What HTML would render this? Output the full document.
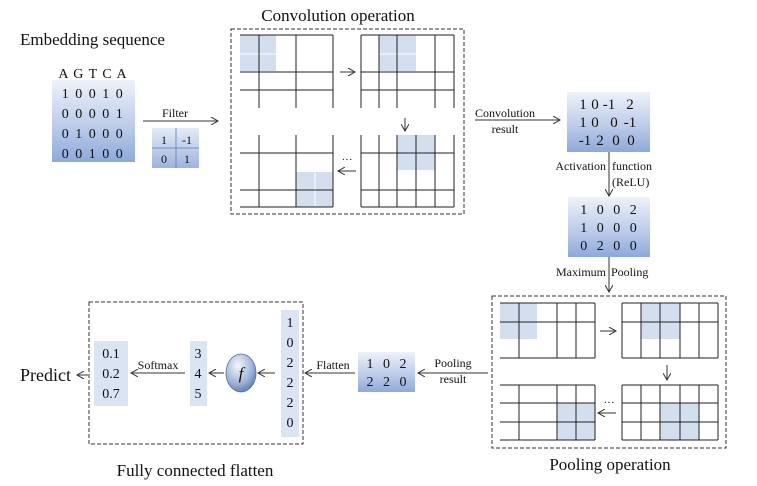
<!DOCTYPE html>
<html><head><meta charset="utf-8"><style>
html,body{margin:0;padding:0;background:#fff}
svg{display:block}
text{font-family:"Liberation Serif",serif;fill:#111}
</style></head><body>
<svg width="757" height="486" viewBox="0 0 757 486" xmlns="http://www.w3.org/2000/svg">
<defs>
<linearGradient id="g" x1="0" y1="0" x2="0" y2="1">
<stop offset="0" stop-color="#eef2fa"/><stop offset="0.6" stop-color="#b9c9e8"/><stop offset="1" stop-color="#8ea9da"/>
</linearGradient>
<linearGradient id="g2" x1="0" y1="0" x2="0" y2="1">
<stop offset="0" stop-color="#e4ebf7"/><stop offset="1" stop-color="#9db4df"/>
</linearGradient>
<radialGradient id="cg" cx="0.4" cy="0.3" r="0.8">
<stop offset="0" stop-color="#f4f7fc"/><stop offset="0.6" stop-color="#9fb3d8"/><stop offset="1" stop-color="#4f6da8"/>
</radialGradient>
<marker id="a" markerWidth="8" markerHeight="8" refX="7" refY="4" orient="auto" markerUnits="userSpaceOnUse">
<path d="M0,0 L7,4 L0,8" fill="none" stroke="#333" stroke-width="1"/>
</marker>
</defs>

<text x="20" y="45" font-size="17">Embedding sequence</text>
<text x="338" y="21" font-size="17" text-anchor="middle">Convolution operation</text>
<text x="610" y="470" font-size="17" text-anchor="middle">Pooling operation</text>
<text x="195" y="476" font-size="17" text-anchor="middle">Fully connected flatten</text>

<text x="93" y="78" font-size="14" text-anchor="middle" letter-spacing="1">A G T C A</text>
<rect x="52" y="80" width="83" height="82" fill="url(#g)"/>
<g font-size="14" text-anchor="middle" letter-spacing="1.5">
<text x="93" y="98">1 0 0 1 0</text>
<text x="93" y="118">0 0 0 0 1</text>
<text x="93" y="138">0 1 0 0 0</text>
<text x="93" y="158">0 0 1 0 0</text>
</g>
<text x="175" y="117" font-size="12" text-anchor="middle">Filter</text>
<line x1="143" y1="121" x2="218" y2="121" stroke="#333" marker-end="url(#a)"/>
<rect x="152" y="128" width="47" height="40" fill="url(#g2)"/>
<line x1="176" y1="128" x2="176" y2="168" stroke="#5a7ab5" stroke-width="0.8"/>
<line x1="152" y1="148" x2="199" y2="148" stroke="#5a7ab5" stroke-width="0.8"/>
<text x="164" y="144" font-size="12" text-anchor="middle">1</text>
<text x="187" y="144" font-size="12" text-anchor="middle">-1</text>
<text x="164" y="163" font-size="12" text-anchor="middle">0</text>
<text x="187" y="163" font-size="12" text-anchor="middle">1</text>

<rect x="231" y="29" width="233" height="185" fill="none" stroke="#333" stroke-dasharray="4,2"/>
<g fill="#d3deef">
<rect x="240" y="35" width="36" height="36"/>
<rect x="379" y="35" width="37" height="36"/>
<rect x="296" y="172" width="37" height="35"/>
<rect x="397" y="135" width="38" height="35"/>
</g>
<g stroke="#fff" stroke-width="1">
<line x1="259" y1="35" x2="259" y2="71"/><line x1="240" y1="54" x2="276" y2="54"/>
<line x1="397" y1="35" x2="397" y2="71"/><line x1="379" y1="54" x2="416" y2="54"/>
<line x1="315" y1="172" x2="315" y2="207"/>
</g>
<g stroke="#222" stroke-width="1">
<line x1="240" y1="35" x2="333" y2="35"/><line x1="240" y1="72" x2="333" y2="72"/><line x1="240" y1="90" x2="333" y2="90"/>
<line x1="259" y1="35" x2="259" y2="108"/><line x1="296" y1="35" x2="296" y2="108"/><line x1="333" y1="35" x2="333" y2="108"/>
<line x1="361" y1="35" x2="454" y2="35"/><line x1="361" y1="72" x2="454" y2="72"/><line x1="361" y1="90" x2="454" y2="90"/>
<line x1="361" y1="35" x2="361" y2="108"/><line x1="379" y1="35" x2="379" y2="108"/><line x1="397" y1="35" x2="397" y2="108"/>
<line x1="435" y1="35" x2="435" y2="108"/><line x1="454" y1="35" x2="454" y2="108"/>
<line x1="240" y1="153" x2="333" y2="153"/><line x1="240" y1="190" x2="333" y2="190"/><line x1="240" y1="207" x2="333" y2="207"/>
<line x1="259" y1="135" x2="259" y2="207"/><line x1="296" y1="135" x2="296" y2="207"/><line x1="333" y1="135" x2="333" y2="207"/>
<line x1="361" y1="153" x2="454" y2="153"/><line x1="361" y1="190" x2="454" y2="190"/><line x1="361" y1="207" x2="454" y2="207"/>
<line x1="361" y1="135" x2="361" y2="207"/><line x1="379" y1="135" x2="379" y2="207"/><line x1="397" y1="135" x2="397" y2="207"/>
<line x1="416" y1="135" x2="416" y2="207"/><line x1="435" y1="135" x2="435" y2="207"/><line x1="454" y1="135" x2="454" y2="207"/>
</g>
<line x1="340" y1="72" x2="355" y2="72" stroke="#333" marker-end="url(#a)"/>
<line x1="405" y1="118" x2="405" y2="131" stroke="#333" marker-end="url(#a)"/>
<line x1="356" y1="171" x2="338" y2="171" stroke="#333" marker-end="url(#a)"/>
<text x="347" y="163" font-size="11" text-anchor="middle">···</text>

<text x="505" y="117" font-size="12" text-anchor="middle">Convolution</text>
<text x="505" y="133" font-size="12" text-anchor="middle">result</text>
<line x1="475" y1="120" x2="560" y2="120" stroke="#333" marker-end="url(#a)"/>
<rect x="567" y="92" width="83" height="60" fill="url(#g)"/>
<g font-size="15" text-anchor="middle">
<text x="583" y="109">1</text><text x="595" y="109">0</text><text x="609" y="109">-1</text><text x="630" y="109">2</text>
<text x="583" y="127">1</text><text x="595" y="127">0</text><text x="614" y="127">0</text><text x="630" y="127">-1</text>
<text x="585" y="145">-1</text><text x="600" y="145">2</text><text x="616" y="145">0</text><text x="631" y="145">0</text>
</g>
<line x1="609" y1="152" x2="609" y2="196" stroke="#333" marker-end="url(#a)"/>
<text x="606" y="170" font-size="12" text-anchor="end">Activation</text>
<text x="612" y="170" font-size="12">function</text>
<text x="612" y="186" font-size="12">(ReLU)</text>
<rect x="568" y="197" width="82" height="60" fill="url(#g)"/>
<g font-size="14" text-anchor="middle" letter-spacing="3">
<text x="610" y="214">1 0 0 2</text>
<text x="610" y="232">1 0 0 0</text>
<text x="610" y="250">0 2 0 0</text>
</g>
<line x1="609" y1="257" x2="609" y2="292" stroke="#333" marker-end="url(#a)"/>
<text x="606" y="276" font-size="12" text-anchor="end">Maximum</text>
<text x="611" y="276" font-size="12">Pooling</text>

<rect x="492" y="296" width="234" height="152" fill="none" stroke="#333" stroke-dasharray="4,2"/>
<g fill="#d3deef">
<rect x="500" y="303" width="37" height="36"/>
<rect x="641" y="303" width="39" height="36"/>
<rect x="557" y="403" width="38" height="37"/>
<rect x="660" y="403" width="39" height="37"/>
</g>
<g stroke="#222" stroke-width="1">
<line x1="500" y1="303" x2="595" y2="303"/><line x1="500" y1="322" x2="595" y2="322"/><line x1="500" y1="358" x2="595" y2="358"/>
<line x1="519" y1="303" x2="519" y2="358"/><line x1="557" y1="303" x2="557" y2="358"/><line x1="576" y1="303" x2="576" y2="358"/><line x1="595" y1="303" x2="595" y2="358"/>
<line x1="622" y1="303" x2="718" y2="303"/><line x1="622" y1="322" x2="718" y2="322"/><line x1="622" y1="358" x2="718" y2="358"/>
<line x1="622" y1="303" x2="622" y2="358"/><line x1="641" y1="303" x2="641" y2="358"/><line x1="660" y1="303" x2="660" y2="358"/><line x1="680" y1="303" x2="680" y2="358"/><line x1="699" y1="303" x2="699" y2="358"/><line x1="718" y1="303" x2="718" y2="358"/>
<line x1="500" y1="385" x2="595" y2="385"/><line x1="500" y1="403" x2="595" y2="403"/><line x1="500" y1="422" x2="595" y2="422"/><line x1="500" y1="440" x2="595" y2="440"/>
<line x1="519" y1="385" x2="519" y2="440"/><line x1="557" y1="385" x2="557" y2="440"/><line x1="576" y1="385" x2="576" y2="440"/><line x1="595" y1="385" x2="595" y2="440"/>
<line x1="622" y1="385" x2="718" y2="385"/><line x1="622" y1="403" x2="718" y2="403"/><line x1="622" y1="422" x2="718" y2="422"/><line x1="622" y1="440" x2="718" y2="440"/>
<line x1="622" y1="385" x2="622" y2="440"/><line x1="641" y1="385" x2="641" y2="440"/><line x1="660" y1="385" x2="660" y2="440"/><line x1="680" y1="385" x2="680" y2="440"/><line x1="699" y1="385" x2="699" y2="440"/><line x1="718" y1="385" x2="718" y2="440"/>
</g>
<line x1="600" y1="331" x2="616" y2="331" stroke="#333" marker-end="url(#a)"/>
<line x1="667" y1="365" x2="667" y2="380" stroke="#333" marker-end="url(#a)"/>
<line x1="616" y1="413" x2="598" y2="413" stroke="#333" marker-end="url(#a)"/>
<text x="609" y="406" font-size="11" text-anchor="middle">···</text>

<line x1="488" y1="373" x2="418" y2="373" stroke="#333" marker-end="url(#a)"/>
<text x="453" y="367" font-size="12" text-anchor="middle">Pooling</text>
<text x="453" y="383" font-size="12" text-anchor="middle">result</text>
<rect x="358" y="352" width="57" height="40" fill="url(#g)"/>
<g font-size="14" text-anchor="middle" letter-spacing="3">
<text x="388" y="368">1 0 2</text>
<text x="388" y="386">2 2 0</text>
</g>
<line x1="355" y1="373" x2="305" y2="373" stroke="#333" marker-end="url(#a)"/>
<text x="333" y="369" font-size="12" text-anchor="middle">Flatten</text>

<rect x="89" y="302" width="214" height="142" fill="none" stroke="#333" stroke-dasharray="4,2"/>
<rect x="281" y="310" width="18" height="127" fill="#dbe4f2"/>
<g font-size="14" text-anchor="middle">
<text x="290" y="327">1</text><text x="290" y="347">0</text><text x="290" y="367">2</text>
<text x="290" y="387">2</text><text x="290" y="407">2</text><text x="290" y="427">0</text>
</g>
<line x1="275" y1="373" x2="258" y2="373" stroke="#333" marker-end="url(#a)"/>
<ellipse cx="241" cy="373" rx="15" ry="19" fill="url(#cg)" stroke="#5a6f99" stroke-width="0.8"/>
<text x="241" y="379" font-size="17" font-style="italic" text-anchor="middle">f</text>
<line x1="224" y1="373" x2="209" y2="373" stroke="#333" marker-end="url(#a)"/>
<rect x="190" y="341" width="17" height="65" fill="#dbe4f2"/>
<g font-size="14" text-anchor="middle">
<text x="198" y="358">3</text><text x="198" y="378">4</text><text x="198" y="398">5</text>
</g>
<line x1="185" y1="373" x2="131" y2="373" stroke="#333" marker-end="url(#a)"/>
<text x="158" y="369" font-size="12" text-anchor="middle">Softmax</text>
<rect x="94" y="341" width="34" height="65" fill="#dbe4f2"/>
<g font-size="14" text-anchor="middle">
<text x="111" y="358">0.1</text><text x="111" y="378">0.2</text><text x="111" y="398">0.7</text>
</g>
<line x1="88" y1="375" x2="77" y2="375" stroke="#333" marker-end="url(#a)"/>
<text x="20" y="381" font-size="18">Predict</text>
</svg>
</body></html>
